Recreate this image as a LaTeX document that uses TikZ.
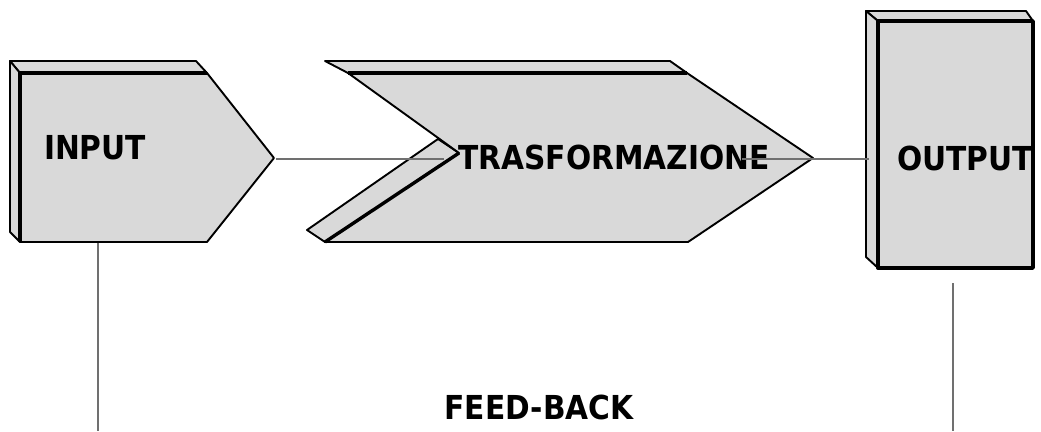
\documentclass[tikz,border=0pt]{standalone}
\usepackage{fontspec}
\newfontfamily\labelfont{DejaVu Sans Condensed Bold}
\definecolor{boxgray}{HTML}{D9D9D9}
\definecolor{linegray}{HTML}{707070}
\begin{document}
\begin{tikzpicture}[x=1pt,y=-1pt,every node/.style={font=\labelfont\fontsize{33}{33}\selectfont,inner sep=0pt},face/.style={fill=boxgray,draw=black,line width=1.9pt,line join=round},rim/.style={line width=3.4pt},link/.style={draw=linegray,line width=1.1pt}]
\useasboundingbox (0,0) rectangle (1041,431);
% input block
\draw[face] (10,61)--(196,61)--(207,73)--(20,73)--cycle;
\draw[face] (10,61)--(20,73)--(20,242)--(10,232)--cycle;
\draw[face] (20,73)--(207,73)--(274,158)--(207,242)--(20,242)--cycle;
\draw[rim] (20,242)--(20,73)--(207,73);
% transformation chevron
\draw[face] (325,61)--(670,61)--(687,73)--(348,73)--cycle;
\draw[face] (438,139)--(307,230)--(325,242)--(459,153)--cycle;
\draw[face] (348,73)--(687,73)--(813,158)--(688,242)--(325,242)--(459,153)--cycle;
\draw[rim] (325,242)--(459,153);\draw[rim] (348,73)--(687,73);
% output block
\draw[face] (866,11)--(1026,11)--(1033,21)--(878,21)--cycle;
\draw[face] (866,11)--(878,21)--(878,268)--(866,257)--cycle;
\draw[face,rim] (878,21) rectangle (1033,268);
% labels
\node (input) at (95,148) {INPUT};
\node (trasf) at (614,157) {TRASFORMAZIONE};
\node (output) at (965,158) {OUTPUT};
\node (feedback) at (539,407) {FEED-BACK};
% links
\coordinate (in-tip) at (276,159);\coordinate (tr-notch) at (444,159);
\coordinate (tr-mid) at (742,159);\coordinate (out-side) at (869,159);
\coordinate (in-foot) at (98,243);\coordinate (in-down) at (98,431);
\coordinate (out-foot) at (953,283);\coordinate (out-down) at (953,431);
\draw[link] (in-tip)--(tr-notch);
\draw[link] (tr-mid)--(out-side);
\draw[link] (in-foot)--(in-down);
\draw[link] (out-foot)--(out-down);
\end{tikzpicture}
\end{document}
